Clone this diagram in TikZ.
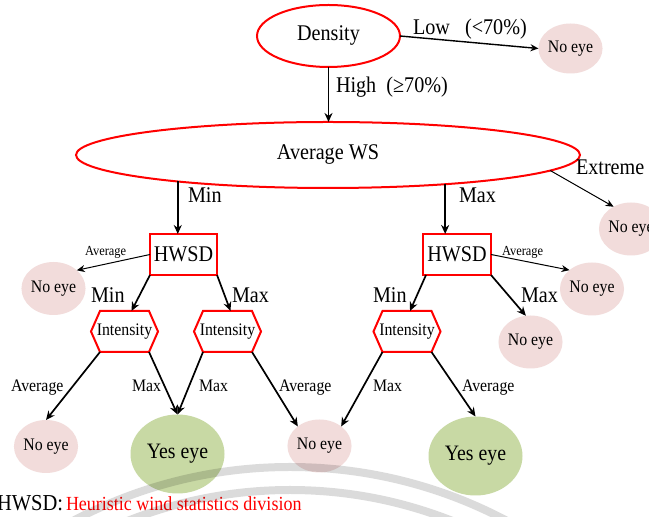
\documentclass[tikz,border=0pt]{standalone}
\usepackage{fontspec}
\setmainfont{Liberation Serif}[FakeStretch=0.9]
\usetikzlibrary{shapes.geometric,arrows.meta,calc}
\definecolor{pinkfill}{HTML}{F2DCDB}
\definecolor{greenfill}{HTML}{C8D9A4}
\definecolor{redline}{HTML}{FF0000}

% hexagonal outline around a (rectangular) node, plus its two lower corners
\newcommand\hexframe[1]{%
  \draw[hexline] (#1.west) -- ($(#1.north west)+(9,0)$) -- ($(#1.north east)+(-9,0)$)
    -- (#1.east) -- ($(#1.south east)+(-9,0)$) -- ($(#1.south west)+(9,0)$) -- cycle;
  \coordinate (#1-bl) at ($(#1.south west)+(9,0)$);
  \coordinate (#1-br) at ($(#1.south east)+(-9,0)$);
}

\begin{document}
\begin{tikzpicture}[x=0.5pt,y=-0.5pt,
  fbig/.style={font=\fontsize{11.2}{13}\selectfont},
  fmid/.style={font=\fontsize{8.8}{10}\selectfont},
  fsmall/.style={font=\fontsize{6.9}{8}\selectfont},
  redell/.style={ellipse, draw=redline, line width=1pt, inner sep=0pt, outer sep=0pt, fbig},
  redbox/.style={rectangle, draw=redline, line width=1pt, minimum width=33.5pt,
    minimum height=20.5pt, inner sep=0pt, outer sep=0pt, fbig},
  hexnode/.style={rectangle, inner sep=0pt, outer sep=0pt, minimum width=33.5pt,
    minimum height=20.5pt, fmid},
  hexline/.style={draw=redline, line width=1pt, line join=miter},
  noeye/.style={ellipse, fill=pinkfill, inner sep=0pt, outer sep=0pt,
    minimum width=31pt, minimum height=26.5pt, fmid},
  yeseye/.style={ellipse, fill=greenfill, inner sep=0pt, outer sep=0pt,
    minimum width=47pt, minimum height=39.5pt, font=\fontsize{11}{13}\selectfont},
  arr/.style={-{Stealth[length=4.5pt,width=4pt]}, line width=0.85pt},
  thinarr/.style={-{Stealth[length=4pt,width=3.5pt]}, line width=0.5pt},
  lbl/.style={anchor=base west, inner sep=0pt, outer sep=0pt},
  watermark/.style={draw=black, draw opacity=0.14, line width=4pt}
]
\clip (0,0) rectangle (649,517);
\fill[white] (0,0) rectangle (649,517);

% ---- nodes ----
\node[redell, minimum width=71.5pt, minimum height=31pt] (dens) at (328.5,36) {Density};
\node[noeye, minimum height=25pt] (ne1) at (570.5,48.5) {No eye};
\node[redell, minimum width=252pt, minimum height=33pt] (avg) at (328,155) {Average WS};
\node[noeye] (ne2) at (631,229) {No eye};

\node[redbox] (h1) at (183.5,254.5) {HWSD};
\node[redbox, minimum width=34pt] (h2) at (457,254.5) {HWSD};
\node[noeye] (ne3) at (53.5,288.5) {No eye};
\node[noeye] (ne6) at (592,289) {No eye};
\node[noeye] (ne7) at (530.5,342) {No eye};

\node[hexnode] (i1) at (124.5,331.5) {Intensity};
\node[hexnode] (i2) at (227.5,331.5) {Intensity};
\node[hexnode] (i3) at (407,331.5) {Intensity};
\hexframe{i1}
\hexframe{i2}
\hexframe{i3}

\node[noeye] (ne4) at (46,446.5) {No eye};
\node[yeseye] (ye1) at (177.5,454) {Yes eye};
\node[noeye] (ne5) at (319.5,446) {No eye};
\node[yeseye] (ye2) at (475.5,456) {Yes eye};

% ---- connectors ----
\draw[thinarr, line width=0.7pt] (dens.east) -- (ne1.west);
\draw[arr] (dens.south) -- (dens.south |- avg.north);
\draw[arr] (avg.190.8) -- (avg.190.8 |- h1.north);
\draw[arr] (avg.346) -- (avg.346 |- h2.north);
\draw[thinarr] (avg.356.9) -- (ne2.128);

\draw[thinarr] (h1.west) -- (ne3.38);
\draw[arr] (h1.south west) -- ($(i1.north)+(7,0)$);
\draw[arr] (h1.south east) -- ($(i2.north)+(3,0)$);
\draw[thinarr] (h2.east) -- (ne6.140);
\draw[arr] ($(h2.south west)+(3,0)$) -- ($(i3.north)+(3,0)$);
\draw[arr] (h2.south east) -- (ne7.100);

\draw[arr] (i1-bl) -- (ne4.north);
\draw[arr] (i1-br) -- (ye1.north);
\draw[arr] (i2-bl) -- (ye1.north);
\draw[arr] (i2-br) -- (ne5.138);
\draw[arr] (i3-bl) -- (ne5.42);
\draw[arr] (i3-br) -- (ye2.north);

% ---- edge labels ----
\node[lbl, fbig] (lLow) at (413,35) {Low\ \ \ (<70\%)};
\node[lbl, fbig] (lHigh) at (336,93) {High\ \ (≥70\%)};
\node[lbl, fbig] (lMinA) at (188,203) {Min};
\node[lbl, fbig] (lMaxA) at (459,203) {Max};
\node[lbl, fbig] (lExt) at (576,175) {Extreme};

\node[lbl, fsmall] (lAvL) at (85,256) {Average};
\node[lbl, fsmall] (lAvR) at (502,256) {Average};
\node[lbl, fbig] (lMinL) at (91,303) {Min};
\node[lbl, fbig] (lMaxL) at (232,303) {Max};
\node[lbl, fbig] (lMinR) at (373,303) {Min};
\node[lbl, fbig] (lMaxR) at (521,303) {Max};

\node[lbl, fmid] (lA1) at (11,392) {Average};
\node[lbl, fmid] (lM1) at (132,392) {Max};
\node[lbl, fmid] (lM2) at (199,392) {Max};
\node[lbl, fmid] (lA2) at (279,392) {Average};
\node[lbl, fmid] (lM3) at (373,392) {Max};
\node[lbl, fmid] (lA3) at (462,392) {Average};

% ---- legend ----
\node[lbl, font=\fontsize{11.4}{13}\selectfont] (key) at (-3,510.5) {HWSD:};
\node[lbl, font=\fontsize{10}{12}\selectfont, text=redline] (keytext) at (66,510.5)
  {Heuristic wind statistics division};

% ---- faint arcs across the lower part ----
\draw[watermark] (290,930) circle[radius=463];
\draw[watermark] (290,930) circle[radius=440];
\end{tikzpicture}
\end{document}
